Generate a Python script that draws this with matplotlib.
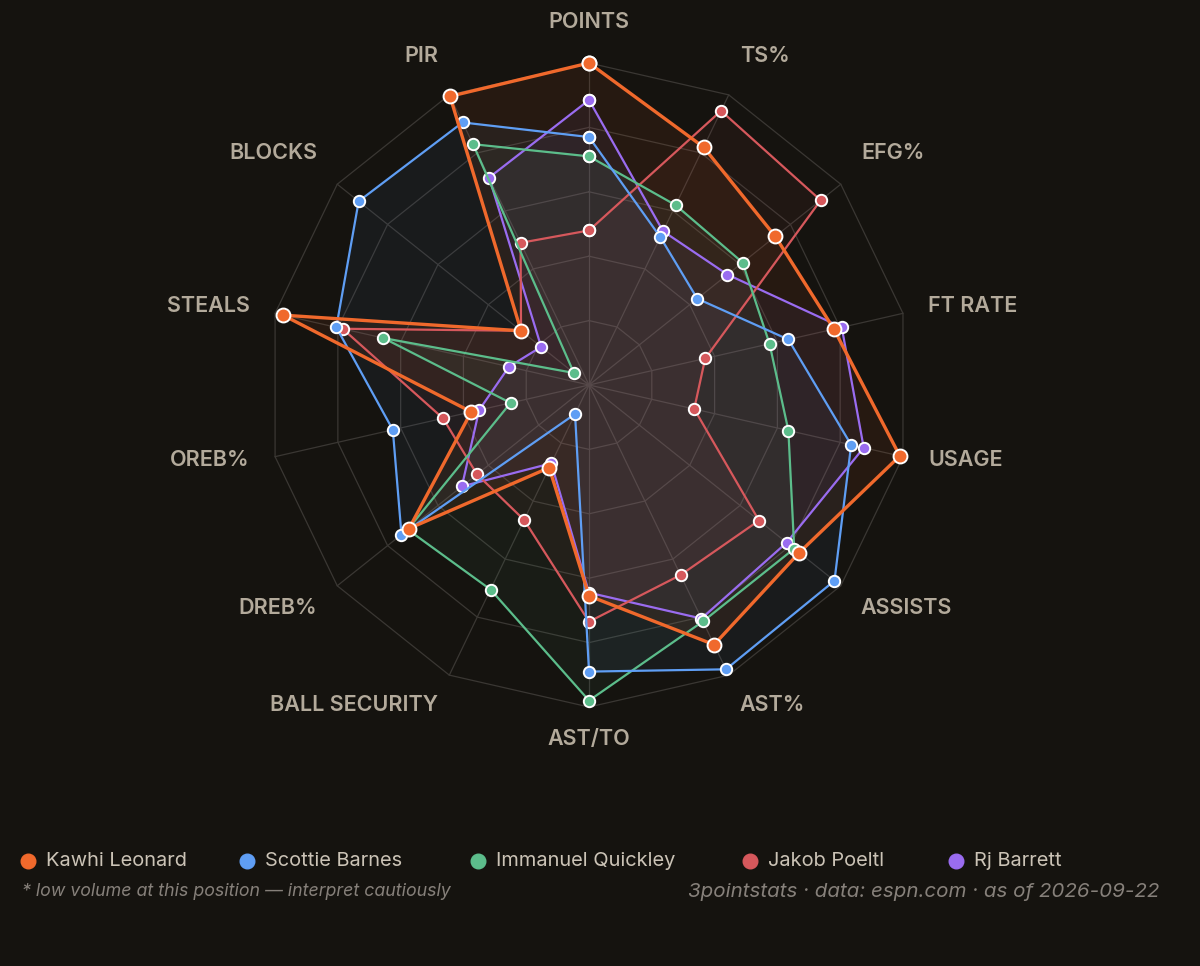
import numpy as np
import matplotlib.pyplot as plt
from matplotlib.lines import Line2D

categories = ['POINTS', 'TS%', 'EFG%', 'FT RATE', 'USAGE', 'ASSISTS', 'AST%',
              'AST/TO', 'BALL SECURITY', 'DREB%', 'OREB%', 'STEALS', 'BLOCKS', 'PIR']

players = ['Kawhi Leonard', 'Scottie Barnes', 'Immanuel Quickley', 'Jakob Poeltl', 'Rj Barrett']

# normalised 0..1 values, same order as categories
kawhi = [1.00, 0.82, 0.74, 0.78, 0.99, 0.835, 0.895, 0.655, 0.285, 0.715, 0.375, 0.975, 0.27, 0.995]
barnes = [0.77, 0.51, 0.43, 0.635, 0.835, 0.975, 0.98, 0.89, 0.10, 0.745, 0.625, 0.805, 0.915, 0.905]
quickley = [0.71, 0.62, 0.61, 0.575, 0.635, 0.815, 0.815, 0.98, 0.705, 0.72, 0.25, 0.655, 0.06, 0.83]
poeltl = [0.48, 0.945, 0.92, 0.37, 0.335, 0.675, 0.655, 0.735, 0.465, 0.445, 0.465, 0.785, 0.27, 0.49]
barrett = [0.885, 0.53, 0.55, 0.805, 0.875, 0.785, 0.805, 0.645, 0.27, 0.505, 0.35, 0.255, 0.19, 0.715]

series = [kawhi, barnes, quickley, poeltl, barrett]
colors = ['#f0692c', '#5f9ef4', '#5cbd8b', '#d6585c', '#9a6cf0']

BG = '#15130f'
GRID = '#3a3733'
W, H = 1200, 966

plt.rcParams['font.family'] = ['Inter', 'DejaVu Sans']

fig = plt.figure(figsize=(W / 100, H / 100), dpi=100, facecolor=BG)
ax = fig.add_axes([0.2225, 0.2681, 0.5367, 0.6667], projection='polar')
ax.set_facecolor('none')
ax.set_theta_offset(np.pi / 2)
ax.set_theta_direction(-1)
ax.set_ylim(0, 1)
ax.set_xticks([])
ax.set_yticks([])
ax.grid(False)
ax.spines['polar'].set_visible(False)

n = len(categories)
theta = np.arange(n) * 2 * np.pi / n
theta_c = np.append(theta, theta[0])

# grid rings and spokes
for r in [0.2, 0.4, 0.6, 0.8, 1.0]:
    ax.plot(theta_c, [r] * (n + 1), color=GRID, lw=0.9, zorder=1, clip_on=False)
for t in theta:
    ax.plot([t, t], [0, 1], color=GRID, lw=0.9, zorder=1, clip_on=False)

# players, Kawhi on top
for i in reversed(range(len(players))):
    vals = np.append(series[i], series[i][0])
    main = i == 0
    ax.fill(theta_c, vals, color=colors[i], alpha=0.08 if main else 0.06, zorder=2, lw=0)
    ax.plot(theta_c, vals, color=colors[i], lw=2.4 if main else 1.6,
            marker='o', ms=10 if main else 8.2, mfc=colors[i], mec='white',
            mew=1.4, zorder=10 - i, clip_on=False)

# axis labels
for t, lab in zip(theta, categories):
    ang = np.pi / 2 - t
    c, s = np.cos(ang), np.sin(ang)
    if c > 0.1:
        ha = 'left'
    elif c < -0.1:
        ha = 'right'
    else:
        ha = 'center'
    if s > 0.5:
        dy = 11
    elif s < -0.5:
        dy = -4.5
    else:
        dy = 1.5
    ax.annotate(lab, xy=(t, 1.08), xytext=(0, dy), textcoords='offset points',
                ha=ha, va='center', fontsize=15.5, fontweight='semibold',
                color='#b3aa9b', annotation_clip=False)

# legend
legend_x = [28, 247, 478, 750, 956]
ly = 1 - 861 / H
for name, col, lx in zip(players, colors, legend_x):
    fig.add_artist(Line2D([lx / W], [ly], marker='o', ms=10.5, color=col,
                          linestyle='none', transform=fig.transFigure))
    fig.text((lx + 18) / W, ly, name, ha='left', va='center', fontsize=14.4,
             color='#cbc3b6')

fig.text(22 / W, 1 - 892 / H, '* low volume at this position \u2014 interpret cautiously',
         ha='left', va='center', fontsize=12.8, style='italic', color='#86807a')
fig.text(1159 / W, 1 - 892 / H, '3pointstats \u00b7 data: espn.com \u00b7 as of 2026-09-22',
         ha='right', va='center', fontsize=14.8, style='italic', color='#86807a')

fig.savefig('out.png', dpi=100, facecolor=BG)
